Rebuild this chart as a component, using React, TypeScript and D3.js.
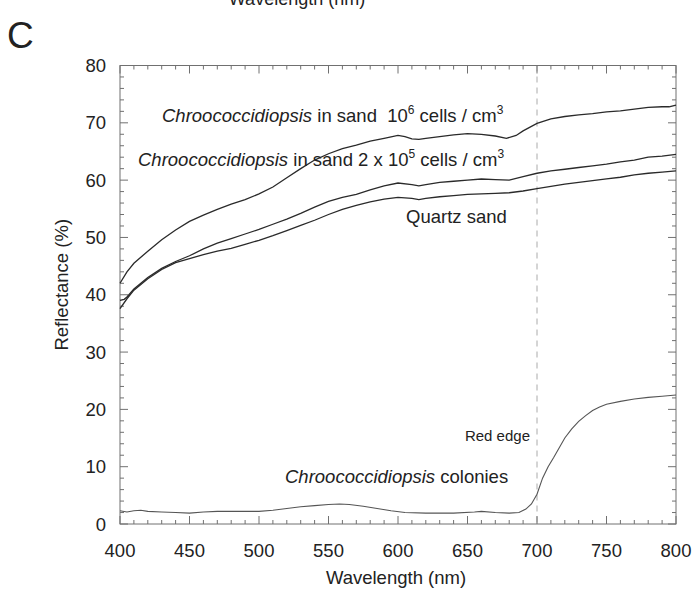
import React from "react";
import * as d3 from "d3";

// Wavelength (nm) and reflectance (%)
const wlSand10e6 = [400,405,410,420,430,440,450,460,470,480,490,500,510,520,530,540,550,560,570,580,590,600,605,610,615,620,630,640,650,660,670,678,685,690,700,710,720,730,740,750,760,770,780,790,795,800];
const refSand10e6 = [42.0,44.0,45.5,47.6,49.6,51.3,52.8,53.9,54.9,55.8,56.6,57.6,58.8,60.4,62.0,63.5,64.6,65.5,66.1,66.8,67.3,67.8,67.6,67.2,67.1,67.3,67.6,67.9,68.1,68.0,67.7,67.3,67.8,68.6,69.9,70.7,71.1,71.4,71.6,71.9,72.1,72.4,72.7,72.8,72.8,73.1];

const wlSand2e5 = [400,403,405,410,420,430,440,450,460,470,480,490,500,510,520,530,540,550,560,570,580,590,600,610,615,620,630,640,650,660,670,680,690,700,710,720,730,740,750,760,770,780,790,800];
const refSand2e5 = [39.0,39.2,39.6,41.0,43.0,44.6,45.8,46.8,48.0,49.0,49.8,50.6,51.4,52.3,53.2,54.2,55.3,56.3,57.0,57.5,58.3,59.0,59.5,59.2,59.0,59.2,59.6,59.8,60.0,60.2,60.1,60.0,60.6,61.2,61.6,61.9,62.2,62.5,62.8,63.2,63.5,64.0,64.2,64.5];

const wlQuartz = [400,405,410,420,430,440,450,460,470,480,490,500,510,520,530,540,550,560,570,580,590,600,610,615,620,630,640,650,660,670,680,690,700,710,720,730,740,750,760,770,780,790,800];
const refQuartz = [37.6,39.3,40.8,42.8,44.4,45.6,46.3,47.0,47.6,48.1,48.8,49.5,50.3,51.2,52.1,53.0,54.0,54.9,55.6,56.2,56.7,57.0,56.8,56.6,56.8,57.1,57.3,57.5,57.6,57.7,57.8,58.1,58.5,58.9,59.3,59.6,59.9,60.2,60.5,60.9,61.2,61.4,61.6];

const wlColonies = [400,405,410,415,420,430,440,450,460,470,480,490,500,510,520,530,540,550,558,565,575,585,595,605,620,640,655,660,670,680,687,692,696,700,704,708,712,716,720,725,730,735,740,745,750,760,770,780,790,800];
const refColonies = [2.3,2.1,2.3,2.4,2.2,2.1,2.0,1.9,2.1,2.2,2.2,2.2,2.2,2.4,2.7,3.0,3.2,3.4,3.5,3.4,3.1,2.7,2.3,2.0,1.9,1.9,2.1,2.2,2.0,1.9,2.0,2.6,3.5,5.2,8.0,10.0,11.6,13.3,15.0,16.6,17.9,18.9,19.8,20.4,20.9,21.4,21.8,22.1,22.3,22.5];

const xDomain = [400, 800];
const yDomain = [0, 80];
const xTickLabels = [400, 450, 500, 550, 600, 650, 700, 750, 800];
const yTickLabels = [0, 10, 20, 30, 40, 50, 60, 70, 80];
const redEdgeWl = 700;

const W = 696, H = 592;
const L = 120, R = 676, T = 65.5, B = 524;
const FONT = "'Liberation Sans', Arial, Helvetica, sans-serif";

export default function App() {
  const x = d3.scaleLinear().domain(xDomain).range([L, R]);
  const y = d3.scaleLinear().domain(yDomain).range([B, T]);
  const line = d3.line<[number, number]>().x(d => x(d[0])).y(d => y(d[1]));
  const mk = (a: number[], b: number[]) => line(a.map((v, i) => [v, b[i]] as [number, number])) || "";

  const xMinor = d3.range(xDomain[0], xDomain[1] + 0.1, 10);
  const yMinor = d3.range(yDomain[0], yDomain[1] + 0.1, 2);
  const frame = "#707070";

  return (
    <svg width={W} height={H} style={{ position: "absolute", left: 0, top: 0, background: "#fff" }} fontFamily={FONT}>
      <text x={297} y={5} fontSize={18} textAnchor="middle" fill="#222">Wavelength (nm)</text>
      <text x={7} y={48} fontSize={37} fill="#222">C</text>

      {/* dashed red edge */}
      <line x1={x(redEdgeWl)} x2={x(redEdgeWl)} y1={T} y2={B} stroke="#aaa" strokeWidth={1} strokeDasharray="6,5" />

      {/* frame */}
      <rect x={L} y={T} width={R - L} height={B - T} fill="none" stroke={frame} strokeWidth={1} />
      {xMinor.map(v => {
        const len = v % 50 === 0 ? 8 : 4;
        return (
          <g key={"xt" + v}>
            <line x1={x(v)} x2={x(v)} y1={B} y2={B - len} stroke={frame} />
            <line x1={x(v)} x2={x(v)} y1={T} y2={T + len} stroke={frame} />
          </g>
        );
      })}
      {yMinor.map(v => {
        const len = v % 10 === 0 ? 8 : 4;
        return (
          <g key={"yt" + v}>
            <line x1={L} x2={L + len} y1={y(v)} y2={y(v)} stroke={frame} />
            <line x1={R} x2={R - len} y1={y(v)} y2={y(v)} stroke={frame} />
          </g>
        );
      })}
      {xTickLabels.map(v => (
        <text key={"xl" + v} x={x(v)} y={557} fontSize={18.5} textAnchor="middle" fill="#222">{v}</text>
      ))}
      {yTickLabels.map(v => (
        <text key={"yl" + v} x={106} y={y(v) + 6.5} fontSize={18.5} textAnchor="end" fill="#222">{v}</text>
      ))}
      <text x={396} y={584} fontSize={18.5} textAnchor="middle" fill="#222">Wavelength (nm)</text>
      <text transform={`translate(68,${(T + B) / 2 - 10}) rotate(-90)`} fontSize={18.5} textAnchor="middle" fill="#222">Reflectance (%)</text>

      {/* curves */}
      <path d={mk(wlSand10e6, refSand10e6)} fill="none" stroke="#2a2a2a" strokeWidth={1.3} />
      <path d={mk(wlSand2e5, refSand2e5)} fill="none" stroke="#2a2a2a" strokeWidth={1.3} />
      <path d={mk(wlQuartz, refQuartz)} fill="none" stroke="#2a2a2a" strokeWidth={1.3} />
      <path d={mk(wlColonies, refColonies)} fill="none" stroke="#555" strokeWidth={1.1} />

      {/* labels */}
      <text x={162} y={122} fontSize={18.5} fill="#222" style={{ whiteSpace: "pre" }}>
        <tspan fontStyle="italic">Chroococcidiopsis</tspan>
        <tspan>{" in sand  10"}</tspan>
        <tspan fontSize={12} dy={-8}>6</tspan>
        <tspan dy={8}>{" cells / cm"}</tspan>
        <tspan fontSize={12} dy={-8}>3</tspan>
      </text>
      <text x={138} y={166} fontSize={18.5} fill="#222" style={{ whiteSpace: "pre" }}>
        <tspan fontStyle="italic">Chroococcidiopsis</tspan>
        <tspan>{" in sand 2 x 10"}</tspan>
        <tspan fontSize={12} dy={-8}>5</tspan>
        <tspan dy={8}>{" cells / cm"}</tspan>
        <tspan fontSize={12} dy={-8}>3</tspan>
      </text>
      <text x={406} y={223} fontSize={18.5} fill="#222">Quartz sand</text>
      <text x={530} y={441} fontSize={15} textAnchor="end" fill="#222">Red edge</text>
      <text x={285} y={483} fontSize={18.5} fill="#222">
        <tspan fontStyle="italic">Chroococcidiopsis</tspan>
        <tspan> colonies</tspan>
      </text>
    </svg>
  );
}
